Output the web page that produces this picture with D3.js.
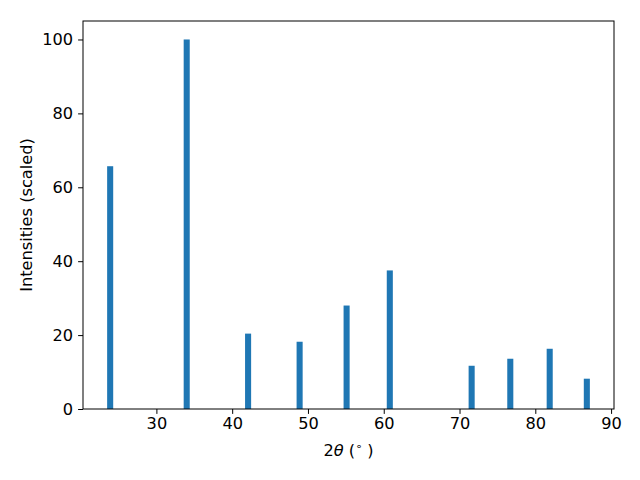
<!DOCTYPE html>
<html><head><meta charset="utf-8">
<script src="https://cdn.jsdelivr.net/npm/d3@7"></script>
<style>body{margin:0;background:#fff}svg{display:block}text{font-family:"DejaVu Sans",sans-serif}</style>
</head><body>
<svg id="c" width="640" height="480"></svg>
<script>
const positions = [23.9, 34.0, 42.1, 48.9, 55.1, 60.8, 71.6, 76.7, 81.9, 86.8];
const intensities = [65.7, 100, 20.4, 18.2, 28.0, 37.5, 11.7, 13.6, 16.3, 8.2];
const barWidth = 0.8;
const xTicks = [30, 40, 50, 60, 70, 80, 90];
const yTicks = [0, 20, 40, 60, 80, 100];

const svg = d3.select("#c");
const m = {l: 83, r: 614, t: 21, b: 409};
const lo = d3.min(positions) - barWidth/2, hi = d3.max(positions) + barWidth/2;
const pad = (hi - lo) * 0.05;
const x = d3.scaleLinear().domain([lo - pad, hi + pad]).range([m.l, m.r]);
const y = d3.scaleLinear().domain([0, 105]).range([m.b, m.t]);

svg.append("g").selectAll("rect").data(positions).join("rect")
  .attr("x", (d) => x(d - barWidth/2))
  .attr("width", (d) => x(d + barWidth/2) - x(d - barWidth/2))
  .attr("y", (d, i) => y(intensities[i]))
  .attr("height", (d, i) => y(0) - y(intensities[i]))
  .attr("fill", "#1f77b4");

const xa = svg.append("g").attr("transform", `translate(0,${m.b})`)
  .call(d3.axisBottom(x).tickValues(xTicks).tickSize(4.9).tickPadding(4).tickFormat(d3.format("d")));
const ya = svg.append("g").attr("transform", `translate(${m.l},0)`)
  .call(d3.axisLeft(y).tickValues(yTicks).tickSize(4.9).tickPadding(5).tickFormat(d3.format("d")));
[xa, ya].forEach(a => {
  a.select(".domain").remove();
  a.selectAll("line").attr("stroke", "#000").attr("stroke-width", 1);
  a.selectAll("text").attr("font-size", 16.2).attr("fill", "#000").style("font-family", "DejaVu Sans");
});

svg.append("rect").attr("x", m.l).attr("y", m.t).attr("width", m.r - m.l).attr("height", m.b - m.t)
  .attr("fill", "none").attr("stroke", "#000").attr("stroke-width", 1);

const xl = svg.append("text").attr("x", (m.l + m.r)/2).attr("y", 456).attr("text-anchor", "middle")
  .attr("font-size", 16.2).attr("fill", "#000");
xl.append("tspan").text("2");
xl.append("tspan").attr("font-style", "italic").text("θ");
xl.append("tspan").text(" (");
xl.append("tspan").attr("font-size", 11).attr("dy", -6).text("∘");
xl.append("tspan").attr("dy", 6).text(" )");

svg.append("text").attr("transform", `translate(32,${(m.t + m.b)/2}) rotate(-90)`)
  .attr("text-anchor", "middle").attr("font-size", 16.2).attr("fill", "#000").text("Intensities (scaled)");
</script>
</body></html>
